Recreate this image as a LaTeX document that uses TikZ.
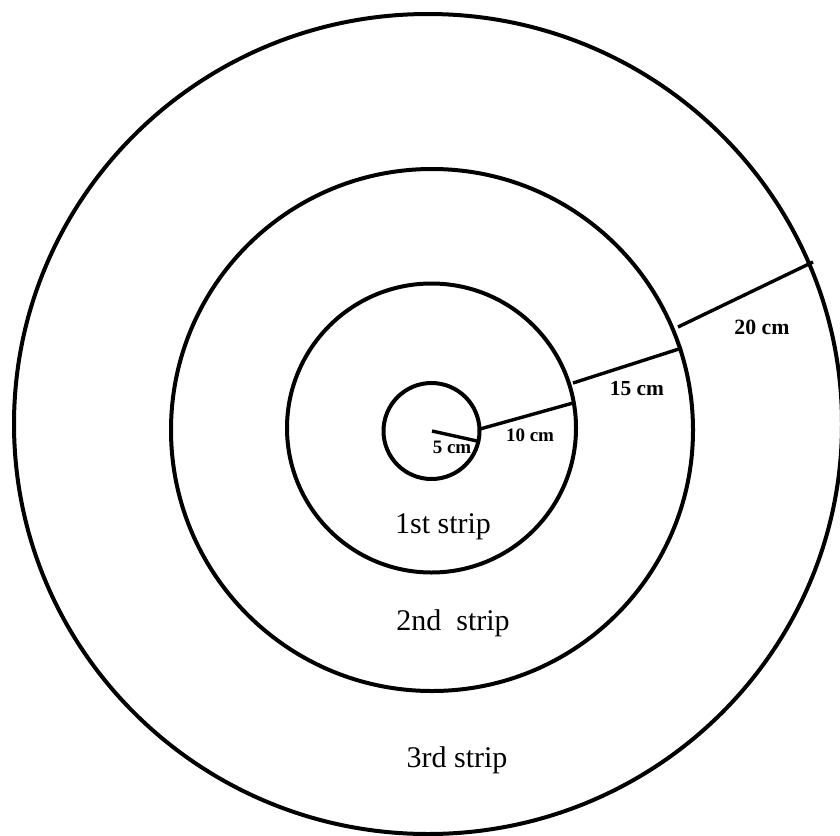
\documentclass[tikz,border=0pt]{standalone}
\usepackage{fontspec}
\setmainfont{Liberation Serif}

\begin{document}
\begin{tikzpicture}[
  x=0.5pt, y=-0.5pt,
  ring/.style={line width=2pt, black},
  spoke/.style={line width=1.7pt, black},
  cmlabel/.style={font=\bfseries\fontsize{9.5}{11}\selectfont, inner sep=0pt},
  striplabel/.style={font=\fontsize{15}{18}\selectfont, inner sep=0pt}
]
\useasboundingbox (0,0) rectangle (840,835);
% centres of the rings
\coordinate (core) at (431.5,431);
\coordinate (ring1) at (431.5,428);
\coordinate (ring2) at (432,430);
\coordinate (ring3) at (428,424);
\draw[ring] (core) circle[radius=24pt];
\draw[ring] (ring1) circle[radius=72.25pt];
\draw[ring] (ring2) circle[radius=130.5pt];
\draw[ring] (ring3) ellipse[x radius=207pt, y radius=205pt];
% radial widths
\coordinate (w5a) at (432,431);
\coordinate (w5b) at (477,441);
\coordinate (w10a) at (480,429);
\coordinate (w10b) at (573,403);
\coordinate (w15a) at (573,383);
\coordinate (w15b) at (682,348);
\coordinate (w20a) at (678,327);
\coordinate (w20b) at (813,262);
\draw[spoke] (w5a) -- (w5b);
\draw[spoke] (w10a) -- (w10b);
\draw[spoke] (w15a) -- (w15b);
\draw[spoke] (w20a) -- (w20b);
\node[cmlabel] (cm5) at (452,447) {5 cm};
\node[cmlabel] (cm10) at (530,435) {10 cm};
\node[cmlabel, font=\bfseries\fontsize{10.7}{12}\selectfont] (cm15) at (637,389) {15 cm};
\node[cmlabel, font=\bfseries\fontsize{10.9}{12}\selectfont] (cm20) at (762,327) {20 cm};
% strips
\node[striplabel] (strip1) at (443,527) {1st strip};
\node[striplabel] (strip2) at (453,623) {2nd~ strip};
\node[striplabel] (strip3) at (457,760) {3rd strip};
\end{tikzpicture}
\end{document}
